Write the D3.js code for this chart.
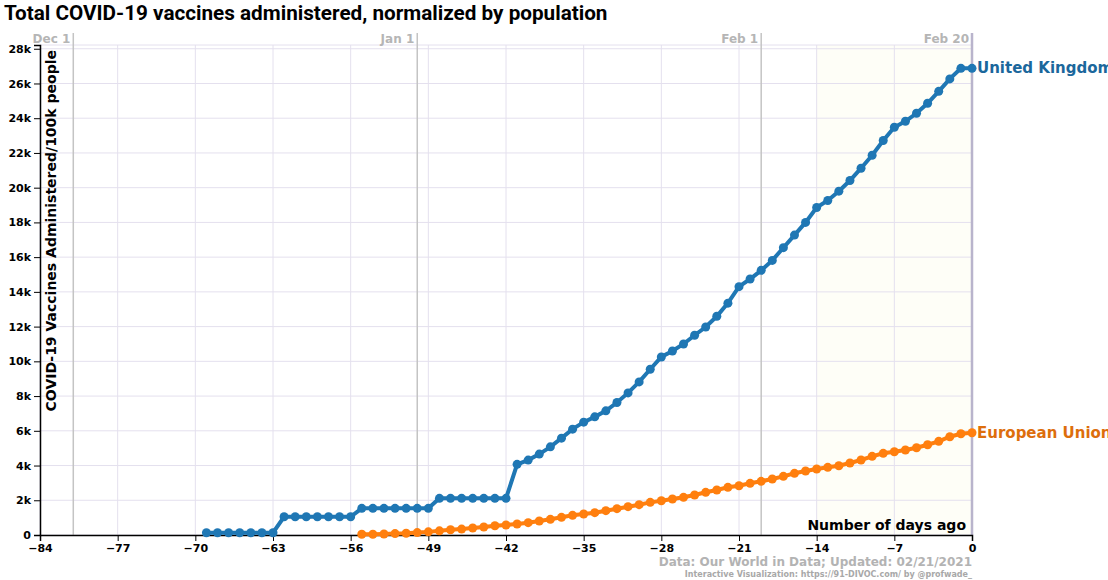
<!DOCTYPE html>
<html>
<head>
<meta charset="utf-8">
<script src="https://cdn.jsdelivr.net/npm/d3@7"></script>
<style>
  body { margin: 0; background: #fff; }
  svg { display: block; }
  .tick text { font-family: "DejaVu Sans", sans-serif; font-weight: bold; font-size: 11px; }
</style>
</head>
<body>
<div class="canvas"></div>
<script>

// data, days ago (0 = Feb 20 2021)

var ukDays = d3.range(-69, 1);
var ukValues = [130,130,130,130,130,130,130,
    1050,1050,1050,1050,1050,1050,1050,
    1535,1535,1535,1535,1535,1535,1535,
    2110,2110,2110,2110,2110,2110,2110,
    4070,4313,4658,5078,5578,6095,6498,6803,7148,7631,8183,8815,9546,10253,10598,11000,11500,11978,12594,13350,
    14300,14740,15238,15813,16544,17269,18000,18861,19264,19799,20414,21121,21869,22714,23479,23824,24284,24859,25549,26262,26872,26872];

var euDays = d3.range(-55, 1);
var euValues = [40,40,60,80,100,140,180,240,300,340,400,460,530,575,633,710,806,902,1017,1132,1209,1286,1401,1516,1631,1746,1880,
    1975,2072,2170,2303,2458,2590,2746,2838,2976,3091,3224,3379,3552,3685,3800,3897,3990,4145,4318,4530,4703,4795,4894,5026,5199,5394,5659,5832,5890];

var seriesNames = ['United Kingdom', 'European Union'];
var seriesColors = ['#1f77b4', '#ff7f0e'];

var dateLabels = ['Dec 1', 'Jan 1', 'Feb 1', 'Feb 20'];
var dateDays = [-81, -50, -19, 0];

var xTicks = d3.range(-84, 1, 7);
var yTicks = d3.range(0, 28001, 2000);


var margin = {t:45,l:40,b:45,r:136},
    width = 1108-margin.l-margin.r,
    height = 580-margin.t-margin.b;

var svg = d3.select('.canvas')
    .append('svg')
    .attr('width',1108)
    .attr('height',580);

var x = d3.scaleLinear().range([0, width]).domain([-84, 0]);
var y = d3.scaleLinear().range([height, 0]).domain([0, 26872*1.05]);

svg.append('text')
    .attr('x', 4)
    .attr('y', 20)
    .attr('font-family', 'Roboto, sans-serif')
    .attr('font-size', '20.7px')
    .attr('font-weight', 'bold')
    .attr('fill', 'black')
    .text('Total COVID-19 vaccines administered, normalized by population');

var g = svg.append('g')
    .attr('transform', 'translate(' + margin.l + ',' + margin.t + ')');

// last two weeks shaded
g.append('rect')
    .attr('x', x(-14))
    .attr('y', 0)
    .attr('width', x(0) - x(-14))
    .attr('height', height)
    .attr('fill', '#fefef7');

// grid
g.selectAll('.vgrid')
    .data(xTicks)
    .enter().append('line')
    .attr('x1', function(d){ return x(d); })
    .attr('x2', function(d){ return x(d); })
    .attr('y1', 0)
    .attr('y2', height)
    .attr('stroke', '#e4e0ee')
    .attr('stroke-width', 1);

g.selectAll('.hgrid')
    .data(yTicks)
    .enter().append('line')
    .attr('x1', 0)
    .attr('x2', width)
    .attr('y1', function(d){ return y(d); })
    .attr('y2', function(d){ return y(d); })
    .attr('stroke', '#e4e0ee')
    .attr('stroke-width', 1);

g.append('line')
    .attr('x1', 0).attr('x2', width)
    .attr('y1', 0).attr('y2', 0)
    .attr('stroke', '#e4e0ee');

// month lines
g.selectAll('.dline')
    .data(dateDays)
    .enter().append('line')
    .attr('x1', function(d){ return x(d); })
    .attr('x2', function(d){ return x(d); })
    .attr('y1', -12)
    .attr('y2', height)
    .attr('stroke', function(d){ return d === 0 ? '#b9b4cc' : '#c4c4c4'; })
    .attr('stroke-width', function(d){ return d === 0 ? 2.5 : 1.5; });

g.selectAll('.dlabel')
    .data(dateDays)
    .enter().append('text')
    .attr('x', function(d){ return x(d) - 3; })
    .attr('y', -2)
    .attr('text-anchor', 'end')
    .attr('font-family', 'DejaVu Sans, sans-serif')
    .attr('font-size', '12px')
    .attr('font-weight', 'bold')
    .attr('fill', '#b5b5b5')
    .text(function(d,i){ return dateLabels[i]; });

// axes
g.append('g')
    .attr('transform', 'translate(0,' + height + ')')
    .call(d3.axisBottom(x).tickValues(xTicks).tickSize(6).tickFormat(d3.format('d')))
    .call(function(a){ a.select('.domain').attr('stroke-width', 1.5); });

g.append('g')
    .call(d3.axisLeft(y).tickValues(yTicks).tickSize(6).tickFormat(function(d){ return d === 0 ? '0' : (d/1000) + 'k'; }))
    .call(function(a){ a.select('.domain').attr('stroke-width', 1.5); });

g.append('text')
    .attr('transform', 'translate(16,5) rotate(-90)')
    .attr('text-anchor', 'end')
    .attr('font-family', 'DejaVu Sans, sans-serif')
    .attr('font-size', '14px')
    .attr('font-weight', 'bold')
    .attr('fill', 'black')
    .text('COVID-19 Vaccines Administered/100k people');

g.append('text')
    .attr('x', width - 6)
    .attr('y', height - 5)
    .attr('text-anchor', 'end')
    .attr('font-family', 'DejaVu Sans, sans-serif')
    .attr('font-size', '14px')
    .attr('font-weight', 'bold')
    .attr('fill', 'black')
    .text('Number of days ago');

// series
var series = [
    {name: seriesNames[0], color: seriesColors[0], data: ukDays.map(function(d,i){ return {day:d, v:ukValues[i]}; })},
    {name: seriesNames[1], color: seriesColors[1], data: euDays.map(function(d,i){ return {day:d, v:euValues[i]}; })}
];

var line = d3.line()
    .x(function(d){ return x(d.day); })
    .y(function(d){ return y(d.v); });

series.forEach(function(s){
    g.append('path')
        .datum(s.data)
        .attr('fill', 'none')
        .attr('stroke', s.color)
        .attr('stroke-width', 4)
        .attr('d', line);

    g.selectAll('.pt')
        .data(s.data)
        .enter().append('circle')
        .attr('cx', function(d){ return x(d.day); })
        .attr('cy', function(d){ return y(d.v); })
        .attr('r', 4.5)
        .attr('fill', s.color);

    var last = s.data[s.data.length-1];
    g.append('text')
        .attr('x', x(last.day) + 5)
        .attr('y', y(last.v) + 5)
        .attr('font-family', 'DejaVu Sans, sans-serif')
        .attr('font-size', '15px')
        .attr('font-weight', 'bold')
        .attr('fill', d3.color(s.color).darker(0.4))
        .text(s.name);
});

// footer
svg.append('text')
    .attr('x', margin.l + width)
    .attr('y', 566)
    .attr('text-anchor', 'end')
    .attr('font-family', 'DejaVu Sans, sans-serif')
    .attr('font-size', '12px')
    .attr('font-weight', 'bold')
    .attr('fill', '#b3b3b3')
    .text('Data: Our World in Data; Updated: 02/21/2021');

svg.append('text')
    .attr('x', margin.l + width)
    .attr('y', 577)
    .attr('text-anchor', 'end')
    .attr('font-family', 'DejaVu Sans, sans-serif')
    .attr('font-size', '8px')
    .attr('font-weight', 'bold')
    .attr('fill', '#a8a8a8')
    .text('Interactive Visualization: https://91-DIVOC.com/ by @profwade_');

</script>
</body>
</html>
